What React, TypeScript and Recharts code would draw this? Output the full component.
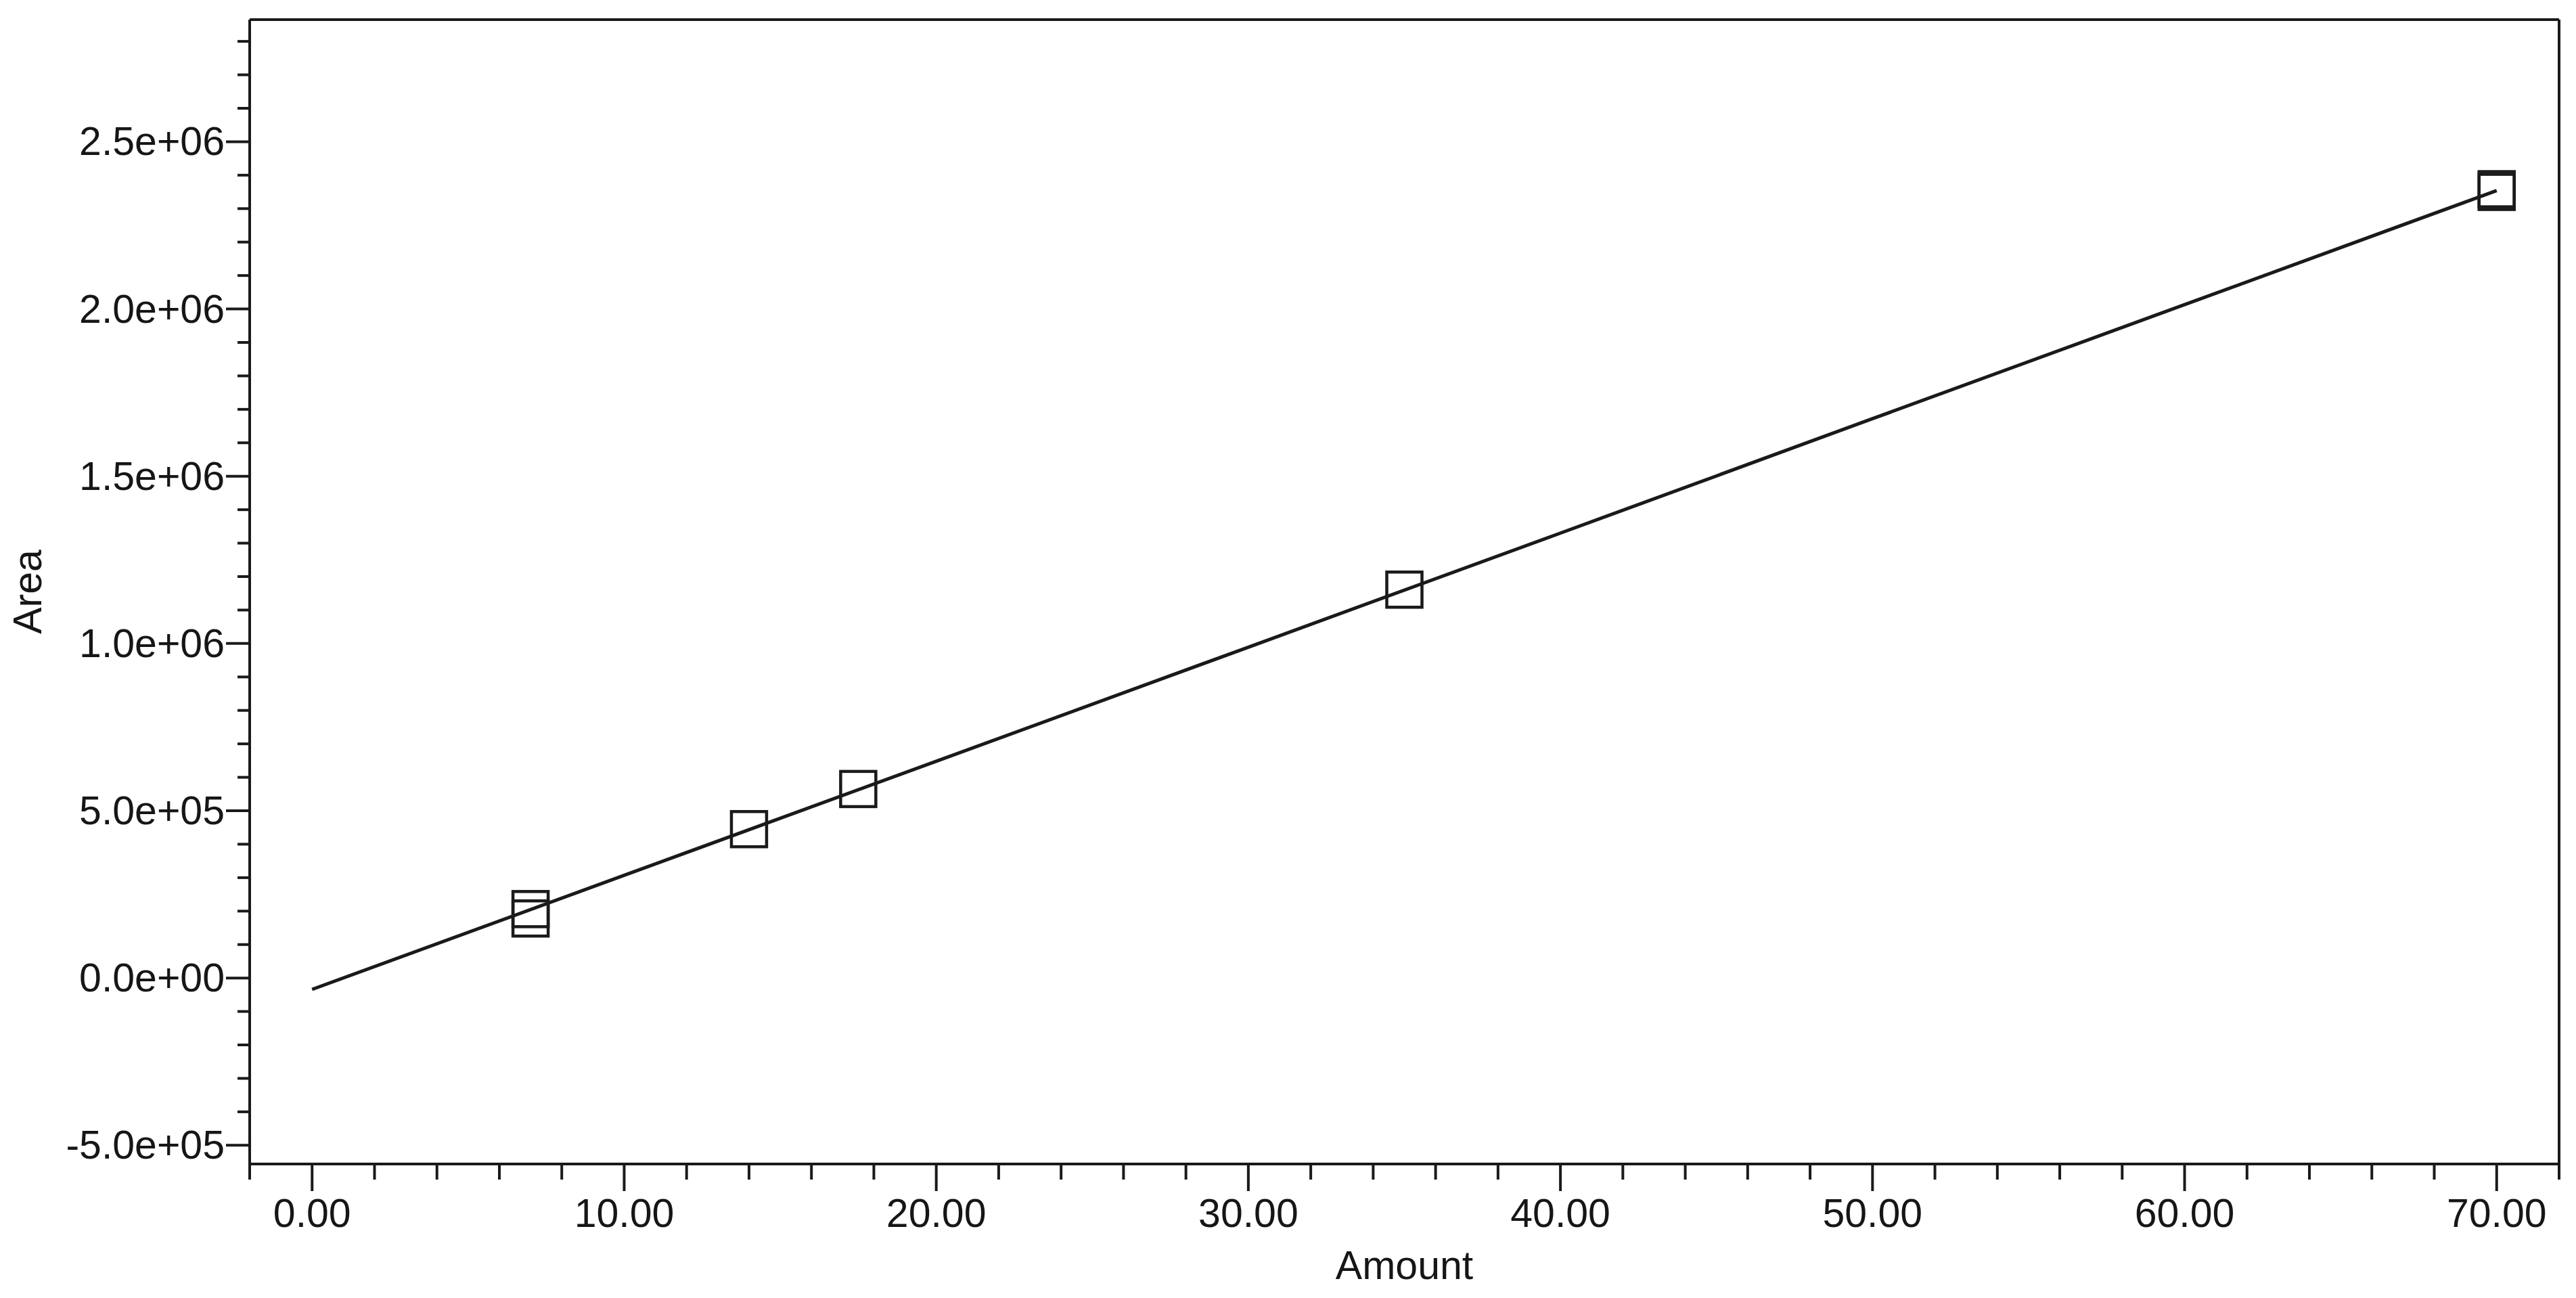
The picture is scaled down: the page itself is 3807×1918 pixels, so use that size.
import { ComposedChart, Line, ReferenceLine, Scatter, XAxis, YAxis } from "recharts";

// Calibration curve (amount vs peak area)
const FIT_X = [0, 10, 20, 30, 40, 50, 60, 70];
const FIT_Y = [-34000, 307000, 648000, 989000, 1330000, 1672000, 2013000, 2354000];

// Standards (two replicates at 7 and at 70)
const STD_X = [7, 7, 14, 17.5, 35, 70, 70];
const STD_Y = [206000, 178000, 445000, 565000, 1161000, 2358000, 2350000];

const X_DOMAIN: [number, number] = [-2, 72];
const Y_DOMAIN: [number, number] = [-556000, 2865000];
const X_TICKS = Array.from({ length: 38 }, (_, i) => -2 + i * 2);
const Y_TICKS = Array.from({ length: 34 }, (_, i) => -500000 + i * 100000);

const INK = "#1a1a1a";
const TEXT = "#161616";
const FONT = "'Liberation Sans', Arial, sans-serif";
const FONT_SIZE = 59;

const fitData = FIT_X.map((x, i) => ({ x, y: FIT_Y[i] }));
const stdData = STD_X.map((x, i) => ({ x, y: STD_Y[i] }));

function sci(v: number) {
  const [m, e] = v.toExponential(1).split("e");
  const sign = e[0] === "-" ? "-" : "+";
  return `${m}e${sign}${e.replace(/[+-]/, "").padStart(2, "0")}`;
}

function XTick(props: any) {
  const { x, y, payload } = props;
  const v = payload.value as number;
  const major = v >= 0 && v % 10 === 0;
  return (
    <g>
      <line x1={x} x2={x} y1={y} y2={y + (major ? 40 : 23)} stroke={INK} strokeWidth={4} />
      {major && (
        <text x={x} y={y + 93} textAnchor="middle" fontSize={FONT_SIZE} fontFamily={FONT} fill={TEXT}>
          {v.toFixed(2)}
        </text>
      )}
    </g>
  );
}

function YTick(props: any) {
  const { x, y, payload } = props;
  const v = payload.value as number;
  const major = v % 500000 === 0;
  return (
    <g>
      <line x1={x} x2={x - (major ? 35 : 18)} y1={y} y2={y} stroke={INK} strokeWidth={4} />
      {major && (
        <text
          x={x - 37}
          y={y}
          textAnchor="end"
          dominantBaseline="central"
          fontSize={FONT_SIZE}
          fontFamily={FONT}
          fill={TEXT}
        >
          {sci(v)}
        </text>
      )}
    </g>
  );
}

function Square(props: any) {
  const { cx, cy } = props;
  return <rect x={cx - 26} y={cy - 26} width={52} height={52} fill="none" stroke={INK} strokeWidth={4.5} />;
}

function AreaLabel(props: any) {
  const { viewBox } = props;
  const cx = 41;
  const cy = viewBox.y + viewBox.height / 2;
  return (
    <text
      x={cx}
      y={cy}
      transform={`rotate(-90 ${cx} ${cy})`}
      textAnchor="middle"
      dominantBaseline="central"
      fontSize={FONT_SIZE}
      fontFamily={FONT}
      fill={TEXT}
    >
      Area
    </text>
  );
}

function AmountLabel(props: any) {
  const { viewBox } = props;
  const cx = viewBox.x + viewBox.width / 2;
  return (
    <text x={cx} y={viewBox.y + 170} textAnchor="middle" fontSize={FONT_SIZE} fontFamily={FONT} fill={TEXT}>
      Amount
    </text>
  );
}

export default function App() {
  return (
    <div style={{ position: "absolute", left: 0, top: 0, width: 3807, height: 1918, background: "#fff" }}>
      <ComposedChart width={3807} height={1918} margin={{ top: 29, right: 25, bottom: 0, left: 0 }}>
        <XAxis
          type="number"
          dataKey="x"
          domain={X_DOMAIN}
          ticks={X_TICKS}
          interval={0}
          height={198}
          tickSize={0}
          tickMargin={0}
          tickLine={false}
          tick={<XTick />}
          axisLine={{ stroke: INK, strokeWidth: 4 }}
          label={{ content: <AmountLabel /> }}
        />
        <YAxis
          type="number"
          domain={Y_DOMAIN}
          ticks={Y_TICKS}
          interval={0}
          width={369}
          tickSize={0}
          tickMargin={0}
          tickLine={false}
          tick={<YTick />}
          axisLine={{ stroke: INK, strokeWidth: 4 }}
          allowDataOverflow
          label={{ content: <AreaLabel /> }}
        />
        <ReferenceLine y={Y_DOMAIN[1]} stroke={INK} strokeWidth={4} />
        <ReferenceLine x={X_DOMAIN[1]} stroke={INK} strokeWidth={4} />
        <Line
          data={fitData}
          dataKey="y"
          type="linear"
          stroke={INK}
          strokeWidth={5}
          dot={false}
          activeDot={false}
          isAnimationActive={false}
        />
        <Scatter data={stdData} dataKey="y" shape={<Square />} isAnimationActive={false} />
      </ComposedChart>
    </div>
  );
}
